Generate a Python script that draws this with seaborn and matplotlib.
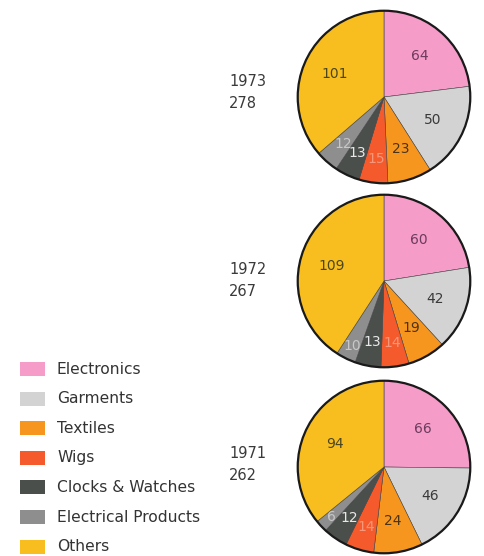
import matplotlib
matplotlib.use("Agg")
import matplotlib.pyplot as plt
import seaborn as sns
import pandas as pd
import numpy as np
from matplotlib.patches import Rectangle

categories = ["Electronics", "Garments", "Textiles", "Wigs",
              "Clocks & Watches", "Electrical Products", "Others"]
years = ["1973", "1972", "1971"]
totals = [278, 267, 262]
values_1973 = [64, 50, 23, 15, 13, 12, 101]
values_1972 = [60, 42, 19, 14, 13, 10, 109]
values_1971 = [66, 46, 24, 14, 12, 6, 94]

colors = ["#F69CC8", "#D3D3D3", "#F7961F", "#F45A2C", "#4B4F4C", "#8D8E8D", "#F8BE1F"]
label_colors = ["#6B3C5E", "#3A3A3A", "#4A3418", "#F4977A", "#E8E8E8", "#C8C8C8", "#4A4620"]

sns.set_theme(style="white")
plt.rcParams["font.family"] = ["DejaVu Sans"]
sns.set_palette(colors)

df = pd.DataFrame({"category": categories, "1973": values_1973,
                   "1972": values_1972, "1971": values_1971})

W, H = 484, 556
fig = plt.figure(figsize=(W / 100, H / 100), dpi=100)

# pie centers (pixels) and radius
pies = [("1973", 384, 97, 88), ("1972", 384, 281, 88), ("1971", 384, 467, 88)]
year_label_y = {"1973": 92, "1972": 281, "1971": 464}

for (yr, cx, cy, r), total in zip(pies, totals):
    ax = fig.add_axes([(cx - r) / W, (H - cy - r) / H, 2 * r / W, 2 * r / H])
    vals = df[yr].tolist()
    wedges, texts = ax.pie(
        vals, colors=sns.color_palette(), startangle=90, counterclock=False,
        radius=1.0, wedgeprops=dict(linewidth=0.4, edgecolor="#444444"))
    for w, v, c in zip(wedges, vals, label_colors):
        span = w.theta2 - w.theta1
        mid = np.deg2rad((w.theta1 + w.theta2) / 2)
        d = 0.84 if span < 15 else (0.72 if span < 20 else 0.63)
        ax.text(d * np.cos(mid), d * np.sin(mid), str(v), ha="center",
                va="center", fontsize=10, color=c)
    ax.add_patch(plt.Circle((0, 0), 1.0, fill=False, edgecolor="#1a1a1a", linewidth=1.6))
    ax.set_xlim(-1.02, 1.02)
    ax.set_ylim(-1.02, 1.02)
    ax.set_aspect("equal")
    ax.axis("off")
    ly = year_label_y[yr]
    fig.text(229 / W, 1 - (ly - 11) / H, yr, fontsize=10.5, color="#3a3a3a",
             ha="left", va="center")
    fig.text(229 / W, 1 - (ly + 11) / H, str(total), fontsize=10.5, color="#3a3a3a",
             ha="left", va="center")

# legend
for i, (cat, c) in enumerate(zip(categories, colors)):
    yc = 369 + i * 29.6
    fig.add_artist(Rectangle((20 / W, 1 - (yc + 7) / H), 25 / W, 14 / H,
                             facecolor=c, edgecolor="none",
                             transform=fig.transFigure))
    fig.text(57 / W, 1 - yc / H, cat, fontsize=11.2, color="#333333",
             ha="left", va="center")

fig.savefig("out.png", dpi=100)
